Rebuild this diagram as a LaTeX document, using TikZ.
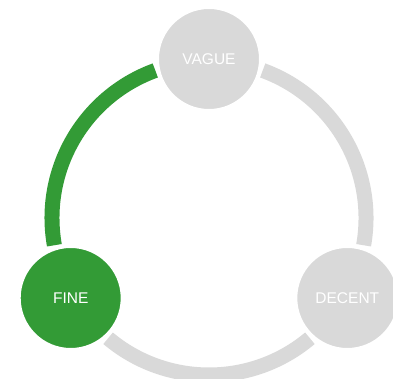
\documentclass[tikz,border=0pt]{standalone}
\usepackage{fontspec}
\setmainfont{Liberation Sans}
\definecolor{cgreen}{RGB}{51,155,54}
\definecolor{cgray}{RGB}{217,217,217}
\begin{document}
\begin{tikzpicture}[x=1pt,y=1pt,
  ringarc/.style={line width=15pt, line cap=butt},
  stage/.style={circle, minimum size=104pt, inner sep=0pt, draw=white, line width=4pt,
    text=white, font=\fontsize{15.5}{18}\selectfont}]
\clip (0,0) rectangle (393,379);
\coordinate (c) at (209,161);
\draw[ringarc, cgreen] ([shift={(110:157)}]c) arc[start angle=110, end angle=190, radius=157];
\draw[ringarc, cgray] ([shift={(-10:157)}]c) arc[start angle=-10, end angle=70, radius=157];
\draw[ringarc, cgray] ([shift={(230:157)}]c) arc[start angle=230, end angle=310, radius=157];
\node[stage, fill=cgray] (vague) at (209,320) {VAGUE};
\node[stage, fill=cgreen] (fine) at (70.7,81) {FINE};
\node[stage, fill=cgray] (decent) at (347.3,81) {DECENT};
\end{tikzpicture}
\end{document}
